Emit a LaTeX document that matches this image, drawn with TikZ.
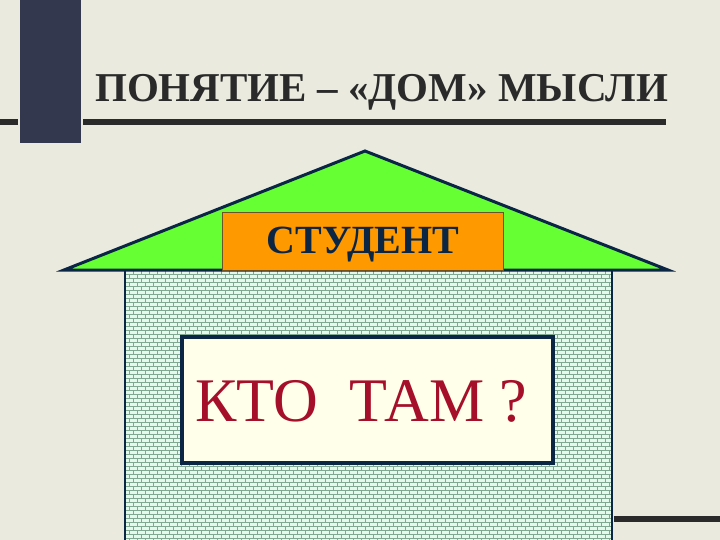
\documentclass[tikz,border=0pt]{standalone}
\usepackage{fontspec}
\setmainfont{Liberation Serif}
\definecolor{bg}{HTML}{EAEADF}
\definecolor{slate}{HTML}{33384F}
\definecolor{rule}{HTML}{2A2A2A}
\definecolor{roofgreen}{HTML}{66FF33}
\definecolor{navy}{HTML}{0B2545}
\definecolor{signorange}{HTML}{FF9900}
\definecolor{mint}{HTML}{E6F7EC}
\definecolor{brick}{HTML}{7FA892}
\definecolor{cream}{HTML}{FFFFEA}
\definecolor{wine}{HTML}{A50F2A}
\tikzset{
  title/.style={font=\fontsize{41}{46}\selectfont\bfseries,text=rule,inner sep=0pt,anchor=base west},
  signbox/.style={draw=navy!60!signorange,line width=0.8pt,fill=signorange},
  roofstyle/.style={draw=navy,line width=3pt,fill=roofgreen,line join=miter},
  askbox/.style={draw=navy,line width=4pt,fill=cream},
}
\begin{document}
\begin{tikzpicture}[x=1pt,y=-1pt]
\fill[bg] (0,0) rectangle (720,540);
\useasboundingbox (0,0) rectangle (720,540);
% top rule and slate bar
\fill[rule] (0,119) rectangle (666,125);
\fill[slate,draw=bg,line width=2.5pt] (19,-5) rectangle (82,144);
\node[title] (t) at (95,102) {ПОНЯТИЕ – «ДОМ» МЫСЛИ};
% body
\coordinate (bodyNW) at (125,270);
\coordinate (bodySE) at (612,545);
\fill[mint] (bodyNW) rectangle (bodySE);
\begin{scope}
\clip (bodyNW) rectangle (bodySE);
\foreach \r in {0,...,69}{
  \pgfmathsetmacro{\yy}{270+4*\r}
  \draw[brick,line width=0.5pt] (125,\yy) -- (612,\yy);
  \pgfmathsetmacro{\off}{mod(\r,2)*4}
  \foreach \c in {0,...,61}{
    \pgfmathsetmacro{\xx}{125+\off+8*\c}
    \draw[brick,line width=0.5pt] (\xx,\yy) -- (\xx,\yy+4);
  }
}
\end{scope}
\draw[navy,line width=2pt] (125,270) -- (125,545) (612,270) -- (612,545);
% roof
\coordinate (L) at (64,270);
\coordinate (A) at (365,151);
\coordinate (R) at (668,270);
\filldraw[roofstyle] (L) -- (A) -- (R) -- cycle;
% sign
\node[signbox,minimum width=281pt,minimum height=58pt,anchor=north west,inner sep=0pt] (s) at (222,212) {};
\node[font=\fontsize{40}{44}\selectfont\bfseries,text=navy] (st) at ([yshift=-3pt]s.center) {СТУДЕНТ};
% question box
\node[askbox,minimum width=371pt,minimum height=126pt,anchor=north west,inner sep=0pt] (q) at (180,335) {};
\node[font=\fontsize{62}{66}\selectfont,text=wine] (qt) at ([xshift=-6pt,yshift=-1pt]q.center) {КТО\ \ ТАМ ?};
% bottom right rule
\fill[rule] (614,516) rectangle (720,522);
\end{tikzpicture}
\end{document}
